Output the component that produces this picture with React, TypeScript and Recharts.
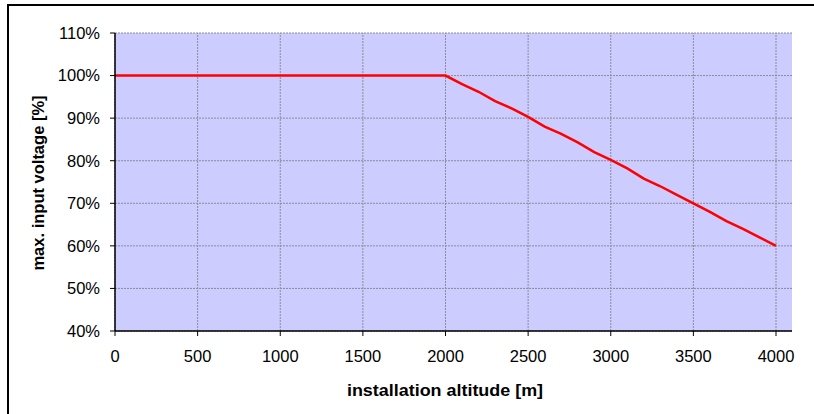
import {
  CartesianGrid,
  Line,
  LineChart,
  ReferenceLine,
  XAxis,
  YAxis,
} from "recharts";

const ALTITUDES = [
  0, 500, 1000, 1500, 2000, 2100, 2200, 2300, 2400, 2500, 2600, 2700, 2800,
  2900, 3000, 3100, 3200, 3300, 3400, 3500, 3600, 3700, 3800, 3900, 4000,
];
const VOLTAGE = [
  100, 100, 100, 100, 100, 98, 96.2, 94, 92.3, 90.3, 88, 86.3, 84.3, 82, 80.2,
  78.2, 75.8, 74, 72, 70, 68, 65.8, 64, 62, 60,
];
const X_TICKS = [0, 500, 1000, 1500, 2000, 2500, 3000, 3500, 4000];
const Y_TICKS = [40, 50, 60, 70, 80, 90, 100, 110];

const FONT = "'Liberation Sans', Arial, sans-serif";
const TICK_FS = 16.5;
const GRID = "#8c8c96";

function XTick({ x, y, payload }: any) {
  return (
    <text
      x={x}
      y={y}
      dy={TICK_FS * 0.716}
      textAnchor="middle"
      fontSize={TICK_FS}
      fontFamily={FONT}
      fill="#000"
    >
      {payload.value}
    </text>
  );
}

function YTick({ x, y, payload }: any) {
  return (
    <text
      x={x}
      y={y}
      dy={TICK_FS * 0.358}
      textAnchor="end"
      fontSize={TICK_FS}
      fontFamily={FONT}
      fill="#000"
    >
      {`${payload.value}%`}
    </text>
  );
}

export default function App() {
  const data = ALTITUDES.map((alt, i) => ({ alt, v: VOLTAGE[i] }));

  return (
    <div
      style={{
        position: "absolute",
        left: 0,
        top: 0,
        width: 814,
        height: 414,
        overflow: "hidden",
        background: "#fff",
        fontFamily: FONT,
      }}
    >
      {/* outer frame, clipped at right/bottom like the original */}
      <div
        style={{
          position: "absolute",
          left: 7,
          top: 4,
          width: 900,
          height: 500,
          borderTop: "2px solid #000",
          borderLeft: "2px solid #000",
        }}
      />
      <LineChart
        width={814}
        height={414}
        data={data}
        margin={{ top: 33, right: 22, left: 55, bottom: 53 }}
        style={{ position: "absolute", left: 0, top: 0 }}
      >
        <CartesianGrid
          fill="#CCCCFF"
          stroke={GRID}
          strokeDasharray="2 1"
          vertical={false}
        />
        {/* vertical grid only at the x ticks (none at the padded right edge) */}
        {X_TICKS.map((t) => (
          <ReferenceLine
            key={t}
            x={t}
            stroke={GRID}
            strokeDasharray="2 1"
          />
        ))}
        <XAxis
          dataKey="alt"
          type="number"
          domain={[0, 4000]}
          padding={{ left: 0, right: 16 }}
          ticks={X_TICKS}
          interval={0}
          height={30}
          tick={<XTick />}
          tickSize={5}
          tickMargin={14}
          axisLine={{ stroke: "#000", strokeWidth: 1.5 }}
          tickLine={{ stroke: "#000" }}
        />
        <YAxis
          type="number"
          domain={[40, 110]}
          ticks={Y_TICKS}
          interval={0}
          width={60}
          tick={<YTick />}
          tickSize={5}
          tickMargin={10}
          axisLine={{ stroke: "#000", strokeWidth: 1.5 }}
          tickLine={{ stroke: "#000" }}
        />
        <Line
          type="linear"
          dataKey="v"
          stroke="#FF0000"
          strokeWidth={2.5}
          dot={false}
          isAnimationActive={false}
        />
      </LineChart>
      <div
        style={{
          position: "absolute",
          left: 444.5,
          top: 382,
          transform: "translateX(-50%) scaleX(1.12)",
          whiteSpace: "nowrap",
          fontWeight: "bold",
          fontSize: 16,
        }}
      >
        installation altitude [m]
      </div>
      <div
        style={{
          position: "absolute",
          left: 38,
          top: 182.5,
          transform: "translate(-50%, -50%) rotate(-90deg)",
          whiteSpace: "nowrap",
          fontWeight: "bold",
          fontSize: 16.5,
        }}
      >
        max. input voltage [%]
      </div>
    </div>
  );
}
